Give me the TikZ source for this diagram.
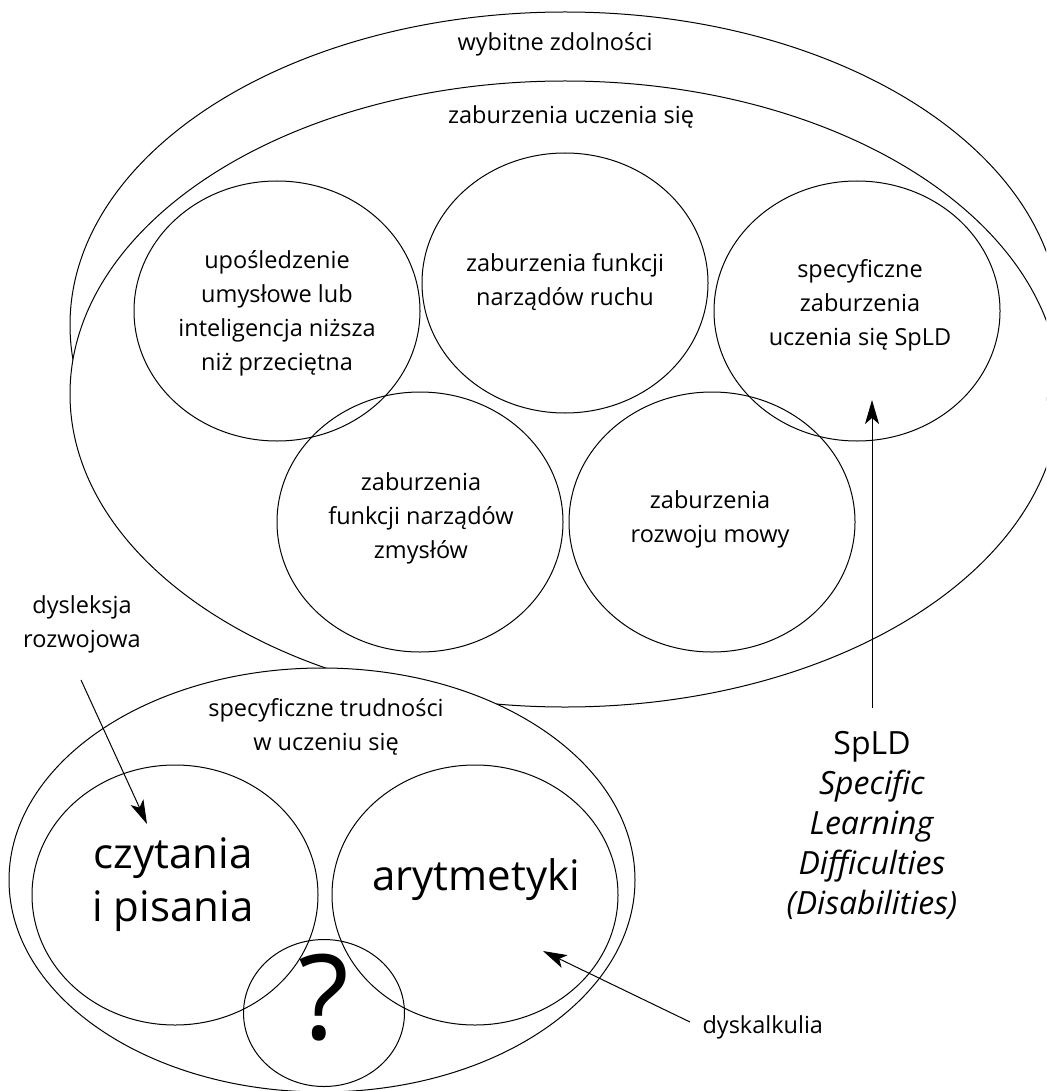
\documentclass[tikz,border=0pt]{standalone}
\usepackage{fontspec}
\setmainfont{Open Sans}
\usetikzlibrary{shapes.geometric,arrows.meta}
\begin{document}
\begin{tikzpicture}[x=1pt,y=-1pt, line width=1pt,
  txt/.style={font=\fontsize{23.5}{34}\selectfont, align=center, inner sep=0pt},
  bigtxt/.style={font=\fontsize{42}{53}\selectfont, align=center, inner sep=0pt},
  spltxt/.style={font=\fontsize{32}{40}\selectfont, align=center, inner sep=0pt},
  blob/.style={ellipse, draw, inner sep=0pt, minimum width=286pt, minimum height=260pt},
  area/.style={ellipse, draw, fill=white, inner sep=0pt},
  arr/.style={-{Stealth[length=24pt,width=14pt,inset=6pt]}},
]
\useasboundingbox (0,0) rectangle (1046,1091);
\clip (0,0) rectangle (1046,1091);
% large areas
\node[area, minimum width=990pt, minimum height=626pt] (outer) at (565,325) {};
\node[area, minimum width=990pt, minimum height=626pt] (inner) at (565,394) {};
\node[txt] (tw) at (555,44) {wybitne zdolności};
\node[txt] (tz) at (571,117) {zaburzenia uczenia się};
% five disorders
\node[blob] (c1) at (277,311) {};
\node[blob] (c2) at (565,283) {};
\node[blob] (c3) at (857,311) {};
\node[blob] (c4) at (420,522) {};
\node[blob] (c5) at (712,522) {};
\node[txt] (t1) at (277,313) {upośledzenie\\umysłowe lub\\inteligencja niższa\\niż przeciętna};
\node[txt] (t2) at (565,282) {zaburzenia funkcji\\narządów ruchu};
\node[txt] (t3) at (860,305) {specyficzne\\zaburzenia\\uczenia się SpLD};
\node[txt] (t4) at (421,518) {zaburzenia\\funkcji narządów\\zmysłów};
\node[txt] (t5) at (710,519) {zaburzenia\\rozwoju mowy};
% lower area
\node[area, minimum width=626pt, minimum height=424pt] (low) at (322,880) {};
\node[txt] (tl) at (326,727) {specyficzne trudności\\w uczeniu się};
\node[blob] (c6) at (175,895) {};
\node[blob] (c7) at (475,895) {};
\node[ellipse, draw, inner sep=0pt, minimum width=161pt, minimum height=147pt] (c8) at (324,1013) {};
\node[bigtxt] (t6) at (173,885) {czytania\\i pisania};
\node[bigtxt] (t7) at (476,880) {arytmetyki};
\node[font=\fontsize{118}{118}\selectfont, inner sep=0pt] (t8) at (324,998) {?};
% side labels
\node[txt] (dys) at (82,624) {dysleksja\\rozwojowa};
\node[txt, anchor=west] (dysk) at (702,1027) {dyskalkulia};
\node[spltxt] (spld) at (872,825) {SpLD\\\textit{Specific}\\\textit{Learning}\\\textit{Difficulties}\\\textit{(Disabilities)}};
% arrows
\coordinate (a1s) at (81,680);
\coordinate (a1e) at (147,824);
\coordinate (a2s) at (690,1022);
\coordinate (a2e) at (543,951);
\coordinate (a3s) at (872,708);
\coordinate (a3e) at (872,400);
\draw[arr] (a1s) -- (a1e);
\draw[arr] (a2s) -- (a2e);
\draw[arr] (a3s) -- (a3e);
\end{tikzpicture}
\end{document}
